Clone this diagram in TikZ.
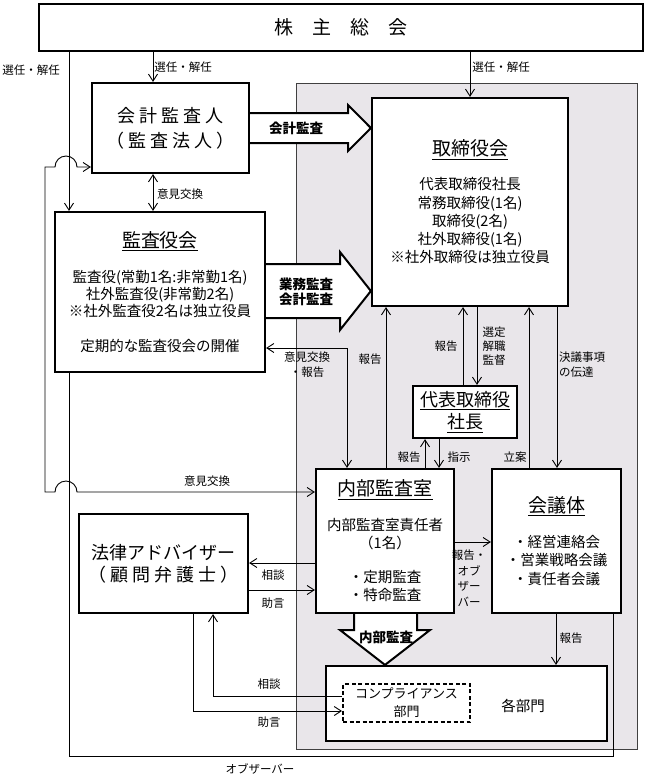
\documentclass[tikz,border=0pt]{standalone}
\usepackage{fontspec}
\setmainfont{Noto Sans CJK JP}
\usetikzlibrary{arrows.meta}
\definecolor{shade}{RGB}{233,230,234}
\begin{document}
\begin{tikzpicture}[x=1pt,y=-1pt,
  box/.style={draw, line width=2.2pt, fill=white, inner sep=0pt, align=center},
  lab/.style={font=\fontsize{11.5}{15}\selectfont, inner sep=0pt},
  blab/.style={font=\bfseries\fontsize{13.5}{15.5}\selectfont, inner sep=0pt, align=center},
  conn/.style={line width=0.9pt},
  arr/.style={conn, -{Straight Barb[length=7pt,width=9pt]}},
  darr/.style={conn, {Straight Barb[length=7pt,width=9pt]}-{Straight Barb[length=7pt,width=9pt]}},
  blk/.style={line width=2pt, fill=white, line join=miter},
  title/.style={font=\fontsize{19}{22}\selectfont}
]
\useasboundingbox (0,0) rectangle (648,780);

% shaded group
\node[draw=black!75, line width=0.8pt, fill=shade, minimum width=341pt, minimum height=666pt, inner sep=0pt] (group) at (466.5,416) {};

% boxes
\node[box, minimum width=604pt, minimum height=47pt, font=\fontsize{19}{22}\selectfont] (kabu) at (341,27.5) {株　主　総　会};
\node[box, minimum width=157pt, minimum height=90pt, font=\fontsize{18}{25}\selectfont] (kaikei) at (170.5,128) {会 計 監 査 人\\（ 監 査 法 人 ）};
\node[box, minimum width=196pt, minimum height=208pt, font=\fontsize{14.5}{18.3}\selectfont] (tori) at (470,202)
  {{\fontsize{19}{19}\selectfont\underline{取締役会}}\\[15.7pt]代表取締役社長\\常務取締役(1名)\\取締役(2名)\\社外取締役(1名)\\※社外取締役は独立役員};
\node[box, minimum width=210pt, minimum height=160pt, font=\fontsize{14.5}{17.2}\selectfont] (kansa) at (160,292)
  {{\fontsize{19}{19}\selectfont\underline{監査役会}}\\[18pt]監査役(常勤1名:非常勤1名)\\社外監査役(非常勤2名)\\※社外監査役2名は独立役員\\[17.5pt]定期的な監査役会の開催};
\node[box, minimum width=104pt, minimum height=52pt, font=\fontsize{18}{22}\selectfont] (daihyo) at (465,412) {\underline{代表取締役}\\\underline{社長}};
\node[box, minimum width=138pt, minimum height=144pt, font=\fontsize{14.5}{18}\selectfont] (naibu) at (385,541)
  {{\fontsize{19}{19}\selectfont\underline{内部監査室}}\\[17pt]内部監査室責任者\\（1名）\\[16pt]・定期監査\\・特命監査};
\node[box, minimum width=129pt, minimum height=144pt, font=\fontsize{14.5}{18.5}\selectfont] (kaigi) at (556.5,541)
  {{\fontsize{19}{19}\selectfont\underline{会議体}}\\[16.5pt]・経営連絡会\\・営業戦略会議\\・責任者会議};
\node[box, minimum width=169pt, minimum height=99pt, font=\fontsize{18}{22}\selectfont] (houritsu) at (163.5,563.5) {法律アドバイザー\\（ 顧 問 弁 護 士 ）};
\node[box, minimum width=281pt, minimum height=75pt] (kakubu) at (466.5,703.5) {};
\node[font=\fontsize{14.5}{17}\selectfont, inner sep=0pt] (kakubu-t) at (523,706) {各部門};
\node[box, dash pattern=on 4pt off 2.5pt, line width=2pt, minimum width=127pt, minimum height=38pt, font=\fontsize{13}{18}\selectfont] (comp) at (406.5,703) {コンプライアンス\\部門};

% block arrows
\draw[blk] (kaikei.east |- 0,113) -- (348,113) -- (348,105) -- (tori.west |- 0,128) -- (348,151) -- (348,143) -- (kaikei.east |- 0,143);
\draw[blk] (kansa.east |- 0,264) -- (340,264) -- (340,252) -- (tori.west |- 0,291) -- (340,330) -- (340,318) -- (kansa.east |- 0,318);
\draw[blk] (naibu.south -| 354,0) -- (354,630) -- (340,630) -- (kakubu.north -| 385,0) -- (430,630) -- (417,630) -- (naibu.south -| 417,0);
\node[blab] (b1) at (296,128) {会計監査};
\node[blab] (b2) at (306,292) {業務監査\\会計監査};
\node[blab] (b3) at (386,637) {内部監査};

% connectors
\draw[arr] (kabu.south -| 69,0) -- (kansa.north -| 69,0);
\draw[arr] (kabu.south -| 153,0) -- (kaikei.north -| 153,0);
\draw[darr] (kaikei.south -| 153,0) -- (kansa.north -| 153,0);
\draw[arr] (kabu.south -| 470,0) -- (tori.north -| 470,0);
\draw[darr] (kaikei.west |- 0,167) -- (77,167) arc[start angle=0,end angle=180,radius=11pt] -- (45,167) -- (45,492) -- (55,492) arc[start angle=180,end angle=0,radius=11pt] -- (naibu.west |- 0,492);
\draw[darr] (naibu.north -| 347,0) -- (347,348) -- (kansa.east |- 0,348);
\draw[arr] (naibu.north -| 386,0) -- (tori.south -| 386,0);
\draw[arr] (daihyo.north -| 463,0) -- (tori.south -| 463,0);
\draw[arr] (tori.south -| 477,0) -- (daihyo.north -| 477,0);
\draw[arr] (kaigi.north -| 529,0) -- (tori.south -| 529,0);
\draw[arr] (tori.south -| 557,0) -- (kaigi.north -| 557,0);
\draw[arr] (naibu.north -| 425,0) -- (daihyo.south -| 425,0);
\draw[arr] (daihyo.south -| 439,0) -- (naibu.north -| 439,0);
\draw[arr] (naibu.east |- 0,542) -- (kaigi.west |- 0,542);
\draw[arr] (naibu.west |- 0,563) -- (houritsu.east |- 0,563);
\draw[arr] (houritsu.east |- 0,590) -- (naibu.west |- 0,590);
\draw[arr] (kaigi.south -| 556,0) -- (kakubu.north -| 556,0);
\draw[arr] (comp.west |- 0,696) -- (213,696) -- (houritsu.south -| 213,0);
\draw[arr] (houritsu.south -| 193,0) -- (193,711) -- (comp.west |- 0,711);
\draw[conn] (kansa.south -| 69,0) -- (69,756) -- (613,756) -- (kaigi.south -| 613,0);

% labels
\node[lab] (l1) at (31,70) {選任・解任};
\node[lab] (l2) at (183,67) {選任・解任};
\node[lab] (l3) at (501,67) {選任・解任};
\node[lab] (l4) at (180,194) {意見交換};
\node[lab, align=center] (l5) at (307,365) {意見交換\\・報告};
\node[lab] (l6) at (370,359) {報告};
\node[lab] (l7) at (446,346) {報告};
\node[lab, align=center, font=\fontsize{11.5}{14}\selectfont] (l8) at (494,346) {選定\\解職\\監督};
\node[lab, align=left, anchor=west] (l9) at (559,365) {決議事項\\の伝達};
\node[lab] (l10) at (409,457) {報告};
\node[lab] (l11) at (459,457) {指示};
\node[lab] (l12) at (515,457) {立案};
\node[lab] (l13) at (207,481) {意見交換};
\node[lab] (l14) at (273,575) {相談};
\node[lab] (l15) at (273,603) {助言};
\node[lab, align=center, font=\fontsize{11.5}{15.5}\selectfont] (l16) at (469,578) {報告・\\オブ\\ザー\\バー};
\node[lab] (l17) at (571,638) {報告};
\node[lab] (l18) at (269,684) {相談};
\node[lab] (l19) at (269,722) {助言};
\node[lab] (l20) at (260,769) {オブザーバー};
\end{tikzpicture}
\end{document}
